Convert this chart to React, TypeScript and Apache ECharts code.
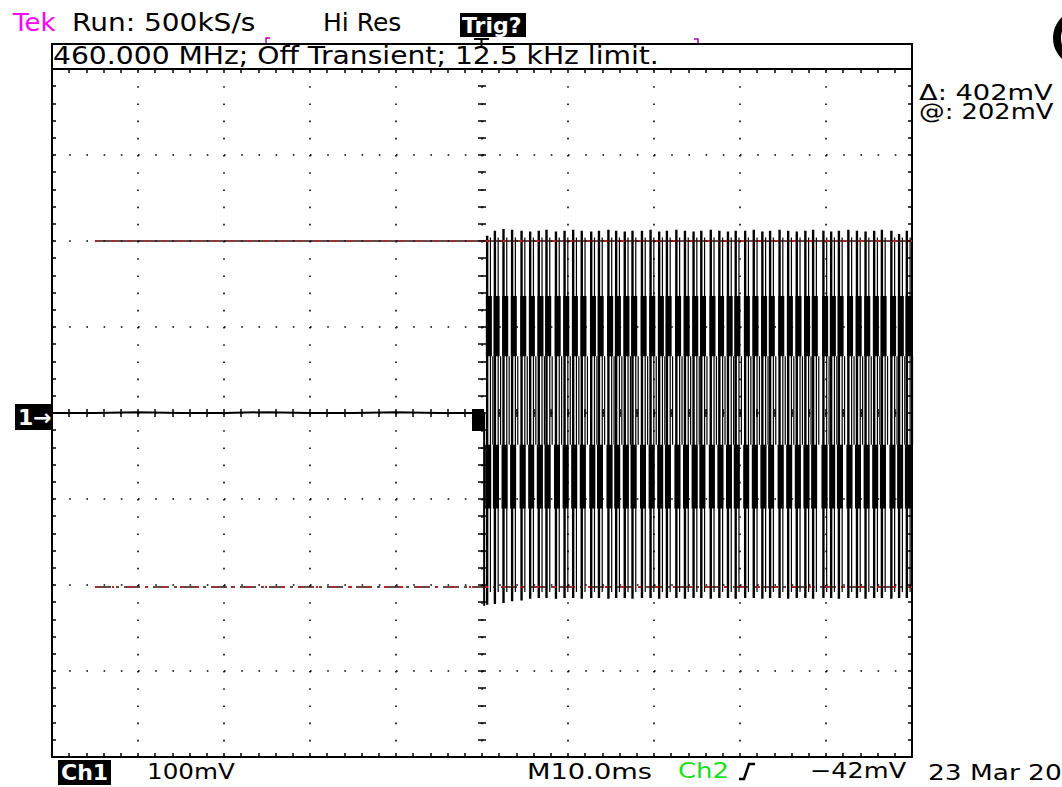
import React, { useEffect, useRef } from "react";
import * as echarts from "echarts";

// Time axis: 10 ms/div, 10 divisions. Voltage axis: 100 mV/div, 8 divisions.
const timeMin = -50;
const timeMax = 50;
const voltMin = -400;
const voltMax = 400;

// Pre-trigger trace (ms, mV)
const preTriggerTimes = [-50, -45, -40, -35, -30, -25, -20, -15, -10, -5, 0.25];
const preTriggerValues = [0, 0, 1, 0, 0, 1, 0, 0, 1, 0, 0];
const triggerEdgeTime = 0.25;
const triggerEdgeLow = -224;

// Burst pulses after the trigger (ms, mV)
const pulseTimes = [
  0.6, 1.5, 2.5, 3.5, 4.6, 5.6, 6.6, 7.5, 8.6, 9.6,
  10.6, 11.6, 12.7, 13.6, 14.7, 15.6, 16.6, 17.5, 18.6, 19.6,
  20.6, 21.5, 22.6, 23.6, 24.6, 25.5, 26.6, 27.6, 28.6, 29.5,
  30.6, 31.6, 32.6, 33.5, 34.6, 35.6, 36.6, 37.6, 38.5, 39.7,
  40.6, 41.5, 42.6, 43.6, 44.6, 45.6, 46.5, 47.6, 48.5, 49.4,
];
const pulseHigh = [
  206, 212, 214, 213, 212, 211, 212, 213, 211, 212,
  213, 212, 211, 212, 213, 212, 211, 212, 212, 213,
  211, 212, 213, 212, 211, 212, 213, 212, 211, 212,
  212, 213, 211, 212, 213, 212, 211, 212, 213, 212,
  211, 212, 213, 212, 211, 212, 213, 212, 208, 212,
];
const pulseLow = [
  -223, -222, -221, -219, -218, -216, -215, -215, -216, -215,
  -215, -216, -215, -215, -216, -215, -215, -216, -215, -215,
  -216, -215, -215, -216, -215, -215, -216, -215, -215, -216,
  -215, -215, -216, -215, -215, -216, -215, -215, -216, -215,
  -215, -216, -215, -215, -216, -215, -215, -216, -215, -215,
];
const upperBand = [66, 136];
const lowerBand = [-111, -37];
const middleSpan = [-37, 66];
const innerHigh = 204;
const innerLow = -208;

// Cursors (mV) and their start time (ms)
const cursorLevels = [200, -202];
const cursorStart = -45;

const FONT = "DejaVu Sans";

function segData(times: number[], offset: number, lows: number[] | number, highs: number[] | number) {
  const out: any[] = [];
  times.forEach((t, i) => {
    const lo = Array.isArray(lows) ? lows[i] : lows;
    const hi = Array.isArray(highs) ? highs[i] : highs;
    out.push([t + offset, lo], [t + offset, hi], [t + offset, "-"]);
  });
  return out;
}

function helperX(position: string, offset: number, inside: boolean, line = false) {
  return {
    type: "value", min: timeMin, max: timeMax, interval: 2, position, offset,
    axisLine: { show: line, onZero: false, lineStyle: { color: "#000", width: 2 } },
    axisTick: { show: true, inside, length: 4, lineStyle: { color: "#000", width: 1.5 } },
    axisLabel: { show: false }, splitLine: { show: false },
  };
}
function helperY(position: string, offset: number, inside: boolean, line = false) {
  return {
    type: "value", min: voltMin, max: voltMax, interval: 20, position, offset,
    axisLine: { show: line, onZero: false, lineStyle: { color: "#000", width: 2 } },
    axisTick: { show: true, inside, length: 4, lineStyle: { color: "#000", width: 1.5 } },
    axisLabel: { show: false }, splitLine: { show: false },
  };
}

function txt(text: string, x: number, y: number, size: number, scaleX: number, fill = "#000", bold = false) {
  return {
    type: "text", x, y, scaleX, silent: true, z: 10,
    style: {
      text, fill, fontSize: size, fontFamily: FONT, fontWeight: bold ? "bold" : "normal",
      align: "left", textAlign: "left", verticalAlign: "middle", textVerticalAlign: "middle",
    },
  };
}

export default function App() {
  const ref = useRef<HTMLDivElement>(null);
  useEffect(() => {
    if (!ref.current) return;
    const chart = echarts.init(ref.current, undefined, { renderer: "svg" });

    const preData: any[] = preTriggerTimes.map((t, i) => [t, preTriggerValues[i]]);
    preData.push([triggerEdgeTime, triggerEdgeLow]);

    const cursorLine = (level: number, type: any, color: string, width: number) => [
      { coord: [cursorStart, level], lineStyle: { type, color, width } },
      { coord: [timeMax, level] },
    ];

    const pulseLine = (name: string, data: any[], width: number) => ({
      type: "line", name, data, symbol: "none", silent: true,
      lineStyle: { color: "#000", width },
    });

    const option: any = {
      animation: false,
      backgroundColor: "#fff",
      grid: { left: 52, top: 69, width: 860, height: 688, containLabel: false },
      xAxis: [
        {
          type: "value", min: timeMin, max: timeMax, interval: 10, position: "bottom",
          axisLine: { show: true, onZero: false, lineStyle: { color: "#000", width: 2 } },
          axisTick: { show: false }, axisLabel: { show: false },
          splitLine: { show: true, lineStyle: { color: "#000", width: 1.6, type: [1.6, 15.6] } },
        },
        helperX("bottom", 0, true),
        helperX("top", 0, true, true),
        helperX("bottom", -344, true),
        helperX("bottom", -344, false),
      ],
      yAxis: [
        {
          type: "value", min: voltMin, max: voltMax, interval: 100, position: "left",
          axisLine: { show: true, onZero: false, lineStyle: { color: "#000", width: 2 } },
          axisTick: { show: false }, axisLabel: { show: false },
          splitLine: { show: true, lineStyle: { color: "#000", width: 1.6, type: [1.6, 15.6] } },
        },
        helperY("left", 0, true),
        helperY("right", 0, true, true),
        helperY("left", -430, true),
        helperY("left", -430, false),
      ],
      series: [
        {
          type: "line", name: "cursors", data: [], silent: true, symbol: "none",
          markLine: {
            silent: true, symbol: "none", label: { show: false },
            data: [
              cursorLine(cursorLevels[0], "solid", "#3a0c0c", 1.6),
              cursorLine(cursorLevels[0], [2, 15], "#e01010", 1.8),
              cursorLine(cursorLevels[1], [16, 5, 3, 5], "#3a0c0c", 1.6),
              cursorLine(cursorLevels[1], [2, 15], "#e01010", 1.8),
            ],
          },
        },
        {
          type: "line", name: "pre", data: preData, symbol: "none", silent: true,
          lineStyle: { color: "#000", width: 2 },
        },
        pulseLine("pulses", segData(pulseTimes, 0, pulseLow, pulseHigh), 2.4),
        pulseLine("inner", segData(pulseTimes, 0.38, innerLow, innerHigh), 1.2),
        pulseLine("middle", segData(pulseTimes, 0.66, middleSpan[0], middleSpan[1]), 1.2),
        pulseLine("upperBand", segData(pulseTimes, 0.2, upperBand[0], upperBand[1]), 6),
        pulseLine("lowerBand", segData(pulseTimes, 0.12, lowerBand[0], lowerBand[1]), 6),
      ],
      graphic: [
        // header
        txt("Tek", 13, 22, 25, 1.04, "#ff00ff"),
        txt("Run: 500kS/s", 72, 22, 25, 1.12),
        txt("Hi Res", 323, 22, 25, 1.0),
        { type: "rect", shape: { x: 460, y: 13, width: 66, height: 24 }, style: { fill: "#000" }, z: 9 },
        txt("Trig?", 462, 25, 22, 1.0, "#fff", true),
        // title box
        { type: "rect", shape: { x: 52, y: 44, width: 860, height: 25 }, style: { fill: "#fff", stroke: "#000", lineWidth: 2 }, z: 5 },
        txt("460.000 MHz; Off Transient; 12.5 kHz limit.", 53, 56, 24, 1.175),
        { type: "polyline", shape: { points: [[474, 39], [489, 39]] }, style: { stroke: "#000", lineWidth: 2 }, z: 11 },
        { type: "polyline", shape: { points: [[481.5, 39], [481.5, 48]] }, style: { stroke: "#000", lineWidth: 2 }, z: 11 },
        { type: "polyline", shape: { points: [[266, 43], [266, 38], [270, 38]] }, style: { stroke: "#b000b0", lineWidth: 1.5 }, z: 11 },
        { type: "polyline", shape: { points: [[694, 39], [698, 39], [698, 43]] }, style: { stroke: "#b000b0", lineWidth: 1.5 }, z: 11 },
        // right readouts
        txt("Δ: 402mV", 919, 92, 22, 1.24),
        txt("@: 202mV", 919, 112, 22, 1.17),
        { type: "arc", shape: { cx: 1082, cy: 38, r: 25, startAngle: Math.PI * 0.68, endAngle: Math.PI * 1.32, clockwise: true }, style: { stroke: "#000", lineWidth: 8, fill: null }, z: 10 },
        // channel marker
        { type: "rect", shape: { x: 15, y: 404, width: 36, height: 26 }, style: { fill: "#000" }, z: 9 },
        txt("1→", 18, 417, 22, 1.0, "#fff", true),
        // trigger point marker
        { type: "rect", shape: { x: 472, y: 409, width: 12, height: 22 }, style: { fill: "#000" }, z: 9 },
        // bottom readouts
        { type: "rect", shape: { x: 58, y: 760, width: 53, height: 25 }, style: { fill: "#000" }, z: 9 },
        txt("Ch1", 61, 772, 22, 1.0, "#fff", true),
        txt("100mV", 147, 771, 22, 1.12),
        txt("M10.0ms", 527, 771, 22, 1.24),
        txt("Ch2", 678, 771, 22, 1.18, "#1adf1a"),
        { type: "polyline", shape: { points: [[739, 779], [744, 779], [749, 764], [755, 764]] }, style: { stroke: "#000", lineWidth: 2.5 }, z: 10 },
        txt("\u221242mV", 810, 771, 22, 1.16),
        txt("23 Mar 20", 928, 772, 22, 1.2),
      ],
    };
    chart.setOption(option);
    return () => chart.dispose();
  }, []);
  return (
    <div
      ref={ref}
      style={{ position: "absolute", left: 0, top: 0, width: 1062, height: 787, background: "#fff" }}
    />
  );
}
